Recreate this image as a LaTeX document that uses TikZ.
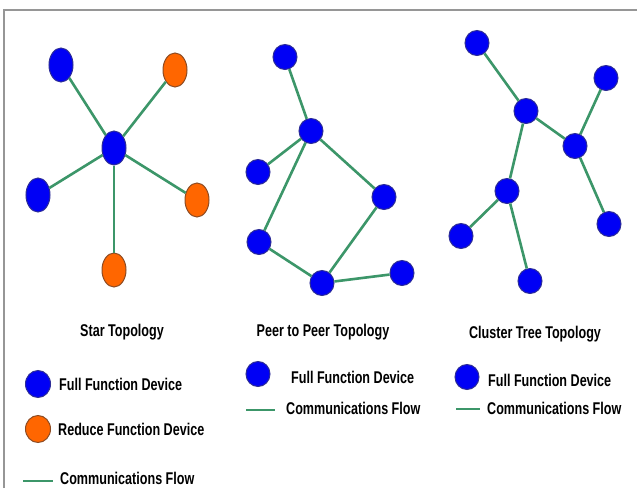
\documentclass[tikz,border=0pt]{standalone}
\usepackage{fontspec}
\setmainfont{Liberation Sans}[FakeStretch=0.74]
\usetikzlibrary{shapes.geometric, positioning}

\definecolor{ffdblue}{RGB}{0,0,245}
\definecolor{ffdline}{RGB}{45,45,150}
\definecolor{rfdorange}{RGB}{255,102,0}
\definecolor{rfdline}{RGB}{140,75,35}
\definecolor{flowgreen}{RGB}{60,150,105}
\definecolor{framegray}{RGB}{150,150,150}

\begin{document}
\begin{tikzpicture}[
  x=1pt, y=-1pt,
  every node/.style={font=\fontsize{17}{19}\selectfont\bfseries, inner sep=0pt},
  ffd/.style={draw=ffdline, fill=ffdblue, line width=1pt, ellipse,
    minimum width=24pt, minimum height=25pt},
  ffdst/.style={ffd, minimum height=34pt},
  rfd/.style={draw=rfdline, fill=rfdorange, line width=1pt, ellipse,
    minimum width=24pt, minimum height=34pt},
  flow/.style={draw=flowgreen, line width=2.6pt},
  lbl/.style={anchor=west},
]
\useasboundingbox (0,0) rectangle (637,488);

%% ---- Frame ----
\draw[framegray, line width=1.2pt] (4,488) -- (4,10) -- (637,10);

%% ---- Star Topology ----
\node[ffdst] (sHub) at (114,148) {};
\node[ffdst] (sTL)  at (61,65)   {};
\node[rfd]   (sTR)  at (175,70)  {};
\node[ffdst] (sL)   at (38,195)  {};
\node[rfd]   (sR)   at (197,200) {};
\node[rfd]   (sB)   at (114,270) {};
\foreach \n in {sTL, sTR, sL, sR, sB}
  \draw[flow] (sHub) -- (\n);

%% ---- Peer to Peer Topology ----
\node[ffd] (pTop) at (285,57)  {};
\node[ffd] (pHub) at (311,131) {};
\node[ffd] (pL)   at (258,172) {};
\node[ffd] (pR)   at (384,197) {};
\node[ffd] (pLL)  at (259,242) {};
\node[ffd] (pB)   at (322,283) {};
\node[ffd] (pFR)  at (402,273) {};
\draw[flow] (pTop) -- (pHub);
\draw[flow] (pHub) -- (pL);
\draw[flow] (pHub) -- (pLL);
\draw[flow] (pHub) -- (pR);
\draw[flow] (pR) -- (pB);
\draw[flow] (pLL) -- (pB);
\draw[flow] (pB) -- (pFR);

%% ---- Cluster Tree Topology ----
\node[ffd] (cTL)   at (477,43)  {};
\node[ffd] (cHubA) at (526,111) {};
\node[ffd] (cTR)   at (606,78)  {};
\node[ffd] (cHubB) at (575,146) {};
\node[ffd] (cHubC) at (507,191) {};
\node[ffd] (cL)    at (461,236) {};
\node[ffd] (cB)    at (530,281) {};
\node[ffd] (cBR)   at (609,224) {};
\draw[flow] (cTL) -- (cHubA);
\draw[flow] (cHubA) -- (cHubB);
\draw[flow] (cHubB) -- (cTR);
\draw[flow] (cHubB) -- (cBR);
\draw[flow] (cHubA) -- (cHubC);
\draw[flow] (cHubC) -- (cL);
\draw[flow] (cHubC) -- (cB);

%% ---- Titles ----
\node (tStar)    at (122,332) {Star Topology};
\node (tPeer)    at (323,332) {Peer to Peer Topology};
\node (tCluster) at (535,334) {Cluster Tree Topology};

%% ---- Legend: star ----
\node[ffd, minimum width=25pt, minimum height=27pt] (lsF) at (38,384) {};
\node[lbl] (lsFt) at (59,384) {Full Function Device};
\node[rfd, minimum width=25pt, minimum height=27pt] (lsR) at (38,429) {};
\node[lbl] (lsRt) at (58,429) {Reduce Function Device};
\coordinate (lsA) at (23,481);
\coordinate (lsB) at (53,481);
\draw[flow] (lsA) -- (lsB);
\node[lbl] (lsCt) at (60,478) {Communications Flow};

%% ---- Legend: peer ----
\node[ffd] (lpF) at (258,374) {};
\node[lbl] (lpFt) at (291,377) {Full Function Device};
\coordinate (lpA) at (246,410);
\coordinate (lpB) at (275,410);
\draw[flow] (lpA) -- (lpB);
\node[lbl] (lpCt) at (286,408) {Communications Flow};

%% ---- Legend: cluster ----
\node[ffd] (lcF) at (467,377) {};
\node[lbl] (lcFt) at (488,380) {Full Function Device};
\coordinate (lcA) at (456,409);
\coordinate (lcB) at (480,409);
\draw[flow] (lcA) -- (lcB);
\node[lbl] (lcCt) at (487,408) {Communications Flow};

\end{tikzpicture}
\end{document}
